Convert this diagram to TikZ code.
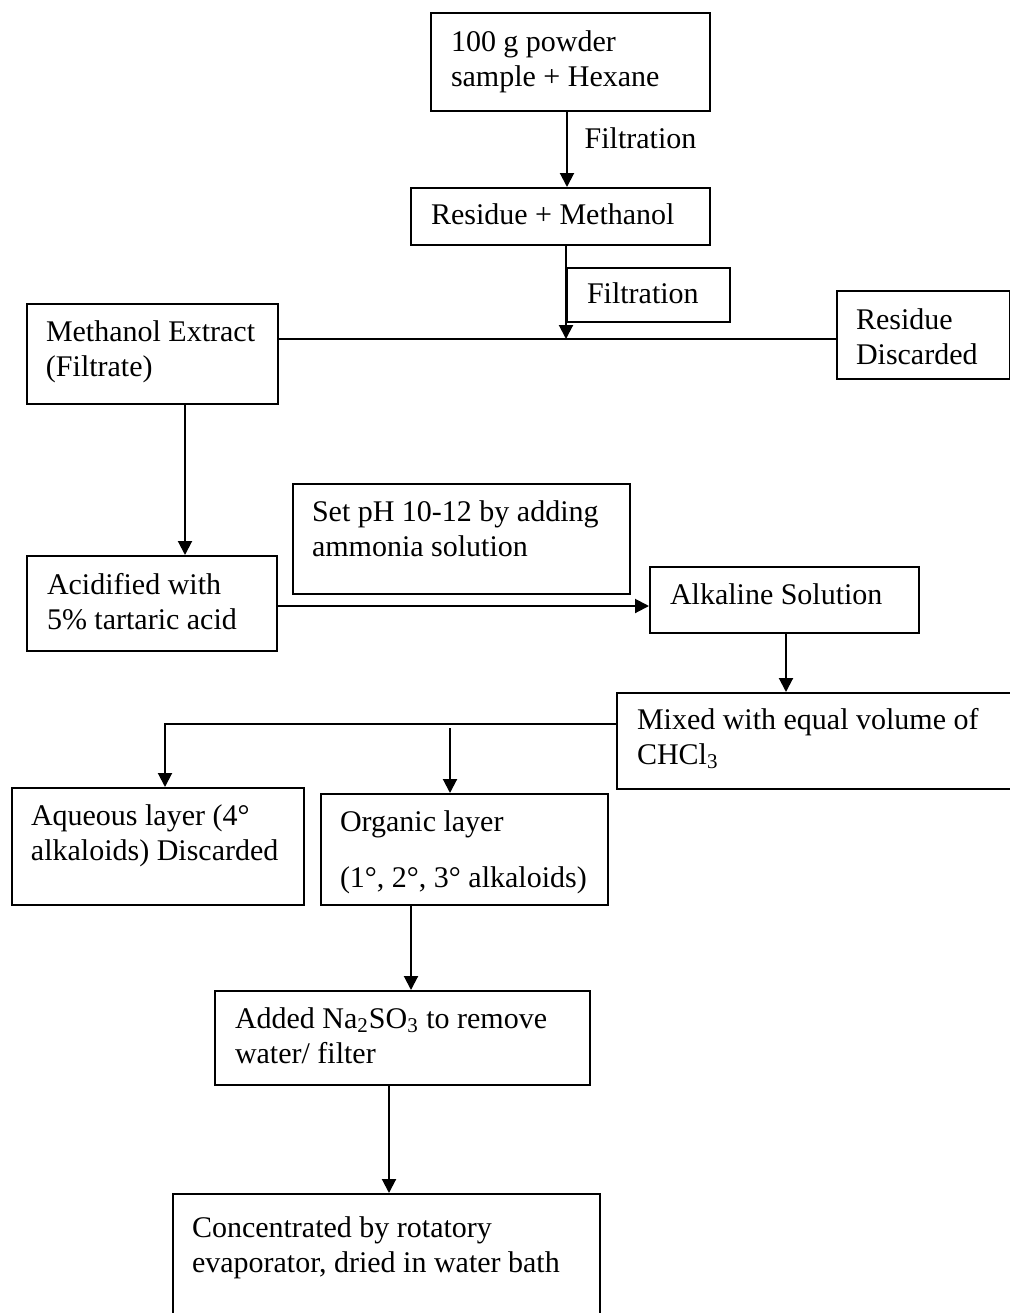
\documentclass[tikz,border=0pt]{standalone}
\usepackage{fontspec}
\setmainfont{Liberation Serif}
\usetikzlibrary{arrows.meta}
\newlength\px
\setlength\px{0.5pt}
\newcommand\boxtxt[5]{\parbox[c][#2\px][t]{#1\px}{\raggedright\leftskip=#3\px\rule{0pt}{#4\px}#5}}
\tikzset{stepbox/.style={draw,inner sep=0pt,anchor=north west}}
\begin{document}
\begin{tikzpicture}[x=0.5pt,y=-0.5pt,line width=1pt,>={Triangle[length=7pt,width=7pt]},font=\fontsize{15}{17.75}\selectfont]
\useasboundingbox (0,0) rectangle (1010,1313);
\clip (0,0) rectangle (1010,1313);
\node[stepbox] (hex) at (430,12) {\boxtxt{279}{98}{20}{38}{100 g powder\\sample + Hexane}};
\node[stepbox] (resmeth) at (410,187) {\boxtxt{299}{57}{20}{36}{Residue + Methanol}};
\node[stepbox] (filt) at (566,267) {\boxtxt{163}{54}{20}{35}{Filtration}};
\node[stepbox] (resdisc) at (836,290) {\boxtxt{173}{88}{19}{38}{Residue\\Discarded}};
\node[stepbox] (methext) at (26,303) {\boxtxt{251}{100}{19}{37}{Methanol Extract\\(Filtrate)}};
\node[stepbox] (setph) at (292,483) {\boxtxt{337}{110}{19}{37}{Set pH 10-12 by adding\\ammonia solution}};
\node[stepbox] (acid) at (26,555) {\boxtxt{250}{95}{20}{38}{Acidified with\\5\% tartaric acid}};
\node[stepbox] (alk) at (649,566) {\boxtxt{269}{66}{20}{37}{Alkaline Solution}};
\node[stepbox] (mixed) at (616,692) {\boxtxt{420}{96}{20}{36}{Mixed with equal volume of\\CHCl\textsubscript{3}}};
\node[stepbox] (aque) at (11,787) {\boxtxt{292}{117}{19}{37}{Aqueous layer (4°\\alkaloids) Discarded}};
\node[stepbox] (org) at (320,793) {\boxtxt{287}{111}{19}{37}{Organic layer\\[10.5pt](1°, 2°, 3° alkaloids)}};
\node[stepbox] (naso) at (214,990) {\boxtxt{375}{94}{20}{37}{Added Na\textsubscript{2}SO\textsubscript{3} to remove\\water/ filter}};
\node[stepbox] (conc) at (172,1193) {\boxtxt{427}{150}{19}{43}{Concentrated by rotatory\\evaporator, dried in water bath}};
\node[anchor=base west] (filtlab) at (577,148) {Filtration};
\coordinate (junc) at (566,339);
\coordinate (split) at (450,728);
\draw[->] (hex.south -| 567,0) -- (resmeth.north -| 567,0);
\draw[->] (resmeth.south -| junc) -- (junc);
\draw (methext.east |- junc) -- (resdisc.west |- junc);
\draw[->] (methext.south -| 185,0) -- (acid.north -| 185,0);
\draw[->] (acid.east |- 0,606) -- (alk.west |- 0,606);
\draw[->] (alk.south -| 786,0) -- (mixed.north -| 786,0);
\draw[->] (mixed.west |- 0,724) -| (aque.north -| 165,0);
\draw[->] (split) -- (org.north -| split);
\draw[->] (org.south -| 411,0) -- (naso.north -| 411,0);
\draw[->] (naso.south -| 389,0) -- (conc.north -| 389,0);
\end{tikzpicture}
\end{document}
